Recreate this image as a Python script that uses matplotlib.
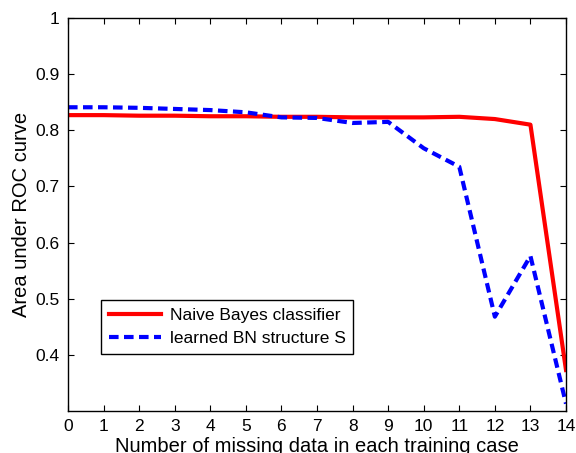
import matplotlib
matplotlib.use("Agg")
import matplotlib.pyplot as plt
from matplotlib import rc

rc('font', family='sans-serif')
rc('font', **{'sans-serif': ['Liberation Sans', 'DejaVu Sans']})

# data
missing = list(range(15))
naive_bayes = [0.827, 0.827, 0.826, 0.826, 0.825, 0.825, 0.824, 0.824,
               0.823, 0.823, 0.823, 0.824, 0.820, 0.810, 0.373]
learned_bn = [0.841, 0.841, 0.840, 0.838, 0.836, 0.832, 0.823, 0.822,
              0.813, 0.815, 0.768, 0.735, 0.468, 0.576, 0.313]


def main():
    fig = plt.figure(figsize=(5.76, 4.53), dpi=100)
    ax = fig.add_axes([68 / 576, 1 - 411 / 453, (566 - 68) / 576, (411 - 18) / 453])

    ax.plot(missing, naive_bayes, color='red', linewidth=3, linestyle='-',
            label='Naive Bayes classifier')
    ax.plot(missing, learned_bn, color='blue', linewidth=3, linestyle=(0, (2.3, 1.3)),
            label='learned BN structure S')

    ax.set_xlim(0, 14)
    ax.set_ylim(0.3, 1.0)
    ax.set_xticks(range(15))
    ax.set_yticks([0.4, 0.5, 0.6, 0.7, 0.8, 0.9, 1.0])
    ax.set_yticklabels(['0.4', '0.5', '0.6', '0.7', '0.8', '0.9', '1'])
    ax.tick_params(direction='in', top=True, right=True, labelsize=12.5, length=4,
                   width=0.8, pad=6)
    for s in ax.spines.values():
        s.set_linewidth(1.0)

    ax.set_xlabel('Number of missing data in each training case', fontsize=14.5, labelpad=2)
    ax.set_ylabel('Area under ROC curve', fontsize=14.5, labelpad=3)

    leg = ax.legend(loc='lower left', bbox_to_anchor=(101 / 576, 1 - 354 / 453),
                    bbox_transform=fig.transFigure, fontsize=12.5, fancybox=False,
                    framealpha=1, handlelength=3.0, borderpad=0.45, labelspacing=0.45,
                    borderaxespad=0, handletextpad=0.5)
    leg.get_frame().set_edgecolor('black')
    leg.get_frame().set_linewidth(1.0)

    fig.savefig('out.png', dpi=100)


if __name__ == "__main__":
    main()
